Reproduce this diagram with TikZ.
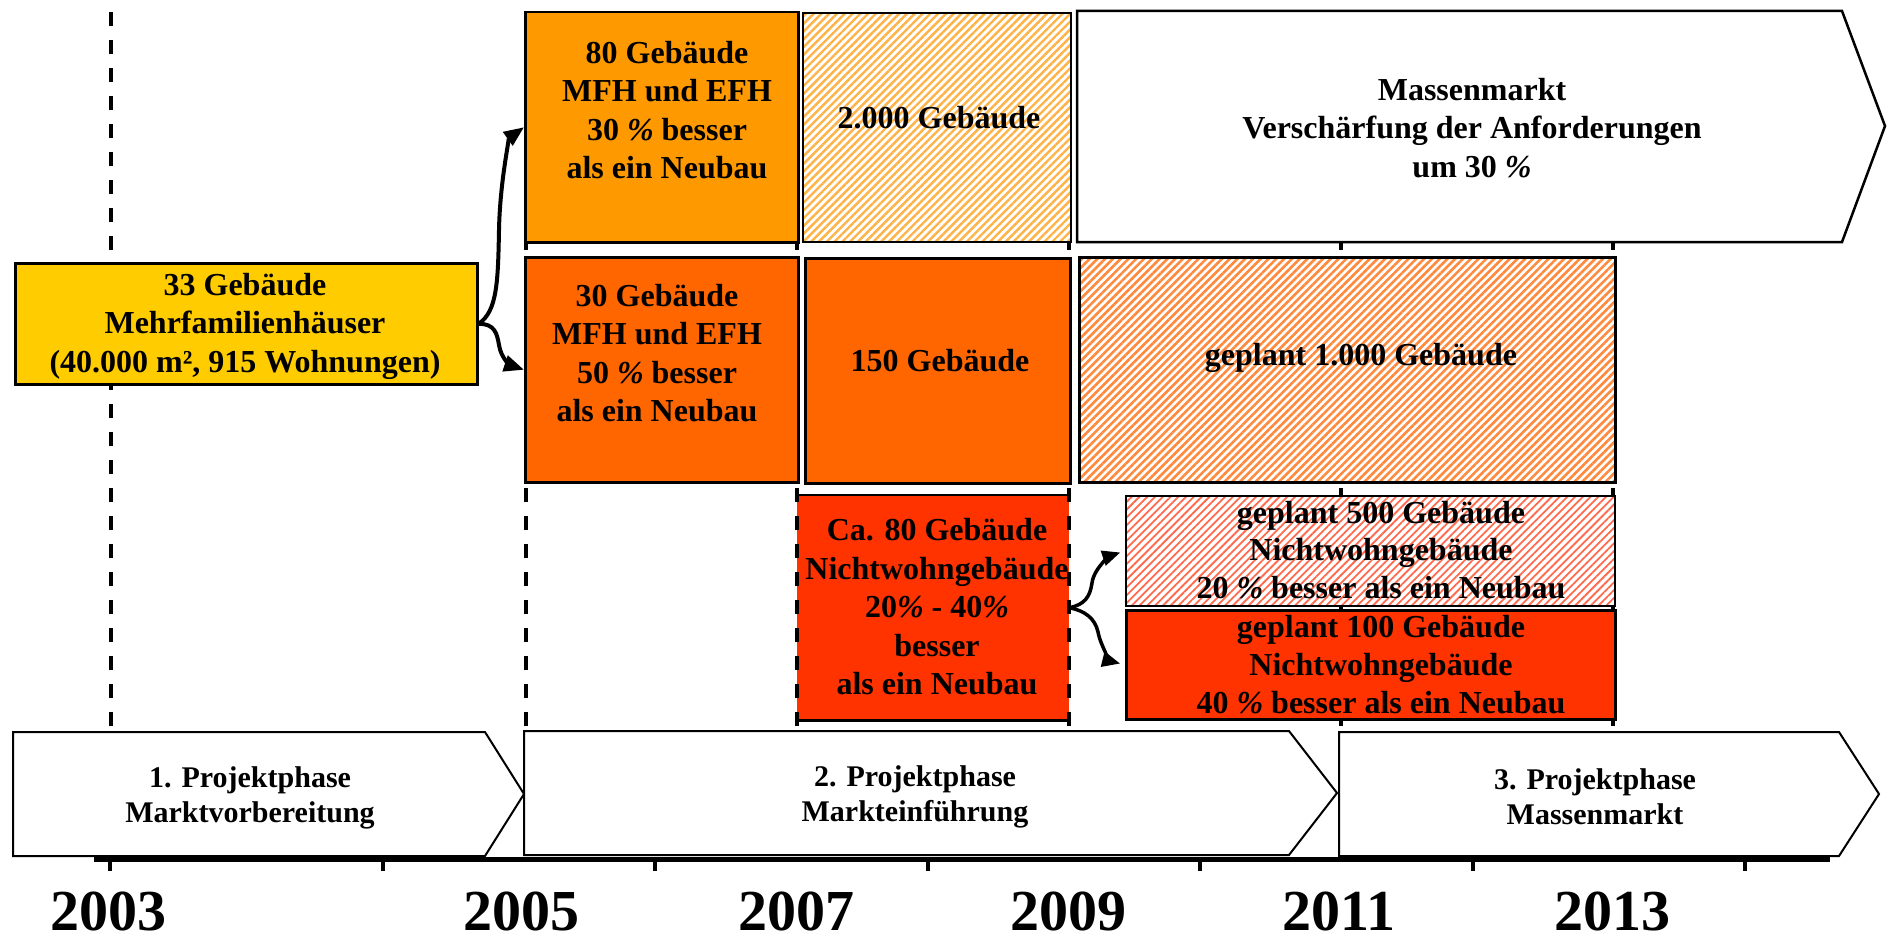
\documentclass[tikz,border=0pt]{standalone}
\usepackage{fontspec}
\setmainfont{Liberation Serif}
\usetikzlibrary{patterns.meta, arrows.meta, calc}

\definecolor{cyellow}{HTML}{FFCC00}
\definecolor{corange}{HTML}{FF9900}
\definecolor{cdorange}{HTML}{FF6600}
\definecolor{cred}{HTML}{FF3300}
\definecolor{hatchA}{HTML}{FFB347}
\definecolor{hatchB}{HTML}{FF8A3D}
\definecolor{hatchC}{HTML}{FF6A4D}

\newcommand{\pcsign}{{\itshape\%}}

\tikzset{
  box/.style={draw=black, line width=2.5pt, anchor=north west, inner sep=0pt},
  txt/.style={font=\bfseries\fontsize{32}{38.5}\selectfont, align=center, inner sep=0pt},
  phasetxt/.style={font=\bfseries\fontsize{30}{35}\selectfont, align=center, inner sep=0pt},
  yeartxt/.style={font=\bfseries\fontsize{58}{58}\selectfont, inner sep=0pt, anchor=base},
  gridline/.style={line width=3.5pt, dash pattern=on 14pt off 14pt},
  conn/.style={line width=4pt, -{Triangle[length=20pt,width=16pt]}},
  connsmall/.style={line width=3.5pt, -{Triangle[length=18pt,width=15pt]}, shorten >=5pt},
  phase/.style={draw=black, line width=2pt, fill=white},
  hatchbox/.style={box, preaction={fill=white}, pattern={Lines[angle=45,distance=5.5pt,line width=#1]}},
}

\begin{document}
\begin{tikzpicture}[x=1pt, y=-1pt]
\useasboundingbox (0,0) rectangle (1887,944);
\fill[white] (0,0) rectangle (1887,944);

% vertical dashed year lines (behind)
\foreach \xx in {111,526,797,1069,1341,1613}
  \draw[gridline] (\xx,12) -- (\xx,727);

% phase arrows
\draw[phase] (13,732) -- (485,732) -- (524,794) -- (485,856) -- (13,856) -- cycle;
\draw[phase] (524,731) -- (1289,731) -- (1337,793) -- (1289,855) -- (524,855) -- cycle;
\draw[phase] (1339,732) -- (1839,732) -- (1879,794) -- (1839,856) -- (1339,856) -- cycle;
\node[phasetxt] (p1) at (250,798) {1. Projektphase\\Marktvorbereitung};
\node[phasetxt] (p2) at (915,797) {2. Projektphase\\Markteinführung};
\node[phasetxt] (p3) at (1595,797) {3. Projektphase\\Massenmarkt};

% time axis
\draw[line width=5pt] (94,859.5) -- (1830,859.5);
\foreach \k in {0,...,6}
  \draw[line width=4pt] ({110+272.5*\k},859) -- ({110+272.5*\k},871);

% years
\node[yeartxt] (y2003) at (108,930) {2003};
\node[yeartxt] (y2005) at (521,930) {2005};
\node[yeartxt] (y2007) at (796,930) {2007};
\node[yeartxt] (y2009) at (1068,930) {2009};
\node[yeartxt] (y2011) at (1339,930) {2011};
\node[yeartxt] (y2013) at (1612,930) {2013};

% boxes
\node[box, fill=cyellow, minimum width=462pt, minimum height=121pt] (b33) at (14,262) {};
\node[txt] (b33t) at (245,326) {33 Gebäude\\Mehrfamilienhäuser\\(40.000 m², 915 Wohnungen)};

\node[box, fill=corange, minimum width=273pt, minimum height=230pt] (b80) at (524,11) {};
\node[txt] (b80t) at (667,110) {80 Gebäude\\MFH und EFH\\30 \pcsign{} besser\\als ein Neubau};

\node[box, fill=cdorange, minimum width=273pt, minimum height=225pt] (b30) at (524,256) {};
\node[txt] (b30t) at (657,353) {30 Gebäude\\MFH und EFH\\50 \pcsign{} besser\\als ein Neubau};

\node[hatchbox=2.4pt, pattern color=hatchA, minimum width=268pt, minimum height=229pt] (b2000) at (802,12) {};
\node[txt] (b2000t) at (939,118) {2.000 Gebäude};

\node[box, fill=cdorange, minimum width=265pt, minimum height=225pt] (b150) at (804,257) {};
\node[txt] (b150t) at (940,361) {150 Gebäude};

% Massenmarkt arrow
\draw[box, fill=white] (1077,11) -- (1842,11) -- (1885,126) -- (1842,242) -- (1077,242) -- cycle;
\node[txt] (mmt) at (1472,128) {Massenmarkt\\Verschärfung der Anforderungen\\um 30 \pcsign};

\node[hatchbox=2.6pt, pattern color=hatchB, minimum width=536pt, minimum height=225pt] (b1000) at (1078,256) {};
\node[txt] (b1000t) at (1361,358) {geplant 1.000 Gebäude};

% Ca. 80 box: solid top and bottom, dashed sides
\node[anchor=north west, inner sep=0pt, fill=cred, minimum width=272pt, minimum height=225pt] (bca) at (797,495) {};
\draw[line width=2.5pt] (bca.north west) -- (bca.north east);
\draw[line width=2.5pt] (bca.south west) -- (bca.south east);
\begin{scope}
  \clip (780,487) rectangle (1090,730);
  \draw[gridline] (797,12) -- (797,727);
  \draw[gridline] (1069,12) -- (1069,727);
\end{scope}
\node[txt] (bcat) at (937,607) {Ca. 80 Gebäude\\Nichtwohngebäude\\20\pcsign{} - 40\pcsign\\besser\\als ein Neubau};

\node[hatchbox=1.8pt, pattern color=hatchC, minimum width=489pt, minimum height=110pt] (b500) at (1125,495) {};
\node[txt, font=\bfseries\fontsize{32}{37.5}\selectfont] (b500t) at (1381,550) {geplant 500 Gebäude\\Nichtwohngebäude\\20 \pcsign{} besser als ein Neubau};

\node[box, fill=cred, minimum width=489pt, minimum height=109pt] (b100) at (1125,609) {};
\node[txt, font=\bfseries\fontsize{32}{38}\selectfont] (b100t) at (1381,665) {geplant 100 Gebäude\\Nichtwohngebäude\\40 \pcsign{} besser als ein Neubau};

% connectors
\coordinate (c1) at (499,230);
\coordinate (c2) at (499,345);
\coordinate (c3) at (1092,583);
\coordinate (c4) at (1098,632);
\draw[conn] (b33.east) .. controls +(19,-12) and +(-1,50) .. (c1) .. controls +(1,-50) and +(-14,10) .. (b80.west);
\draw[conn] (b33.east) .. controls +(16,0) and +(-2,-12) .. (c2) .. controls +(2,14) and +(-12,-4) .. (b30.west);
\draw[connsmall] (bca.east) .. controls +(15,-3) and +(-2,14) .. (c3) .. controls +(2,-16) and +(-12,4) .. (b500.west);
\draw[connsmall] (bca.east) .. controls +(15,3) and +(-3,-14) .. (c4) .. controls +(3,16) and +(-12,-3) .. (b100.west);

\end{tikzpicture}
\end{document}
